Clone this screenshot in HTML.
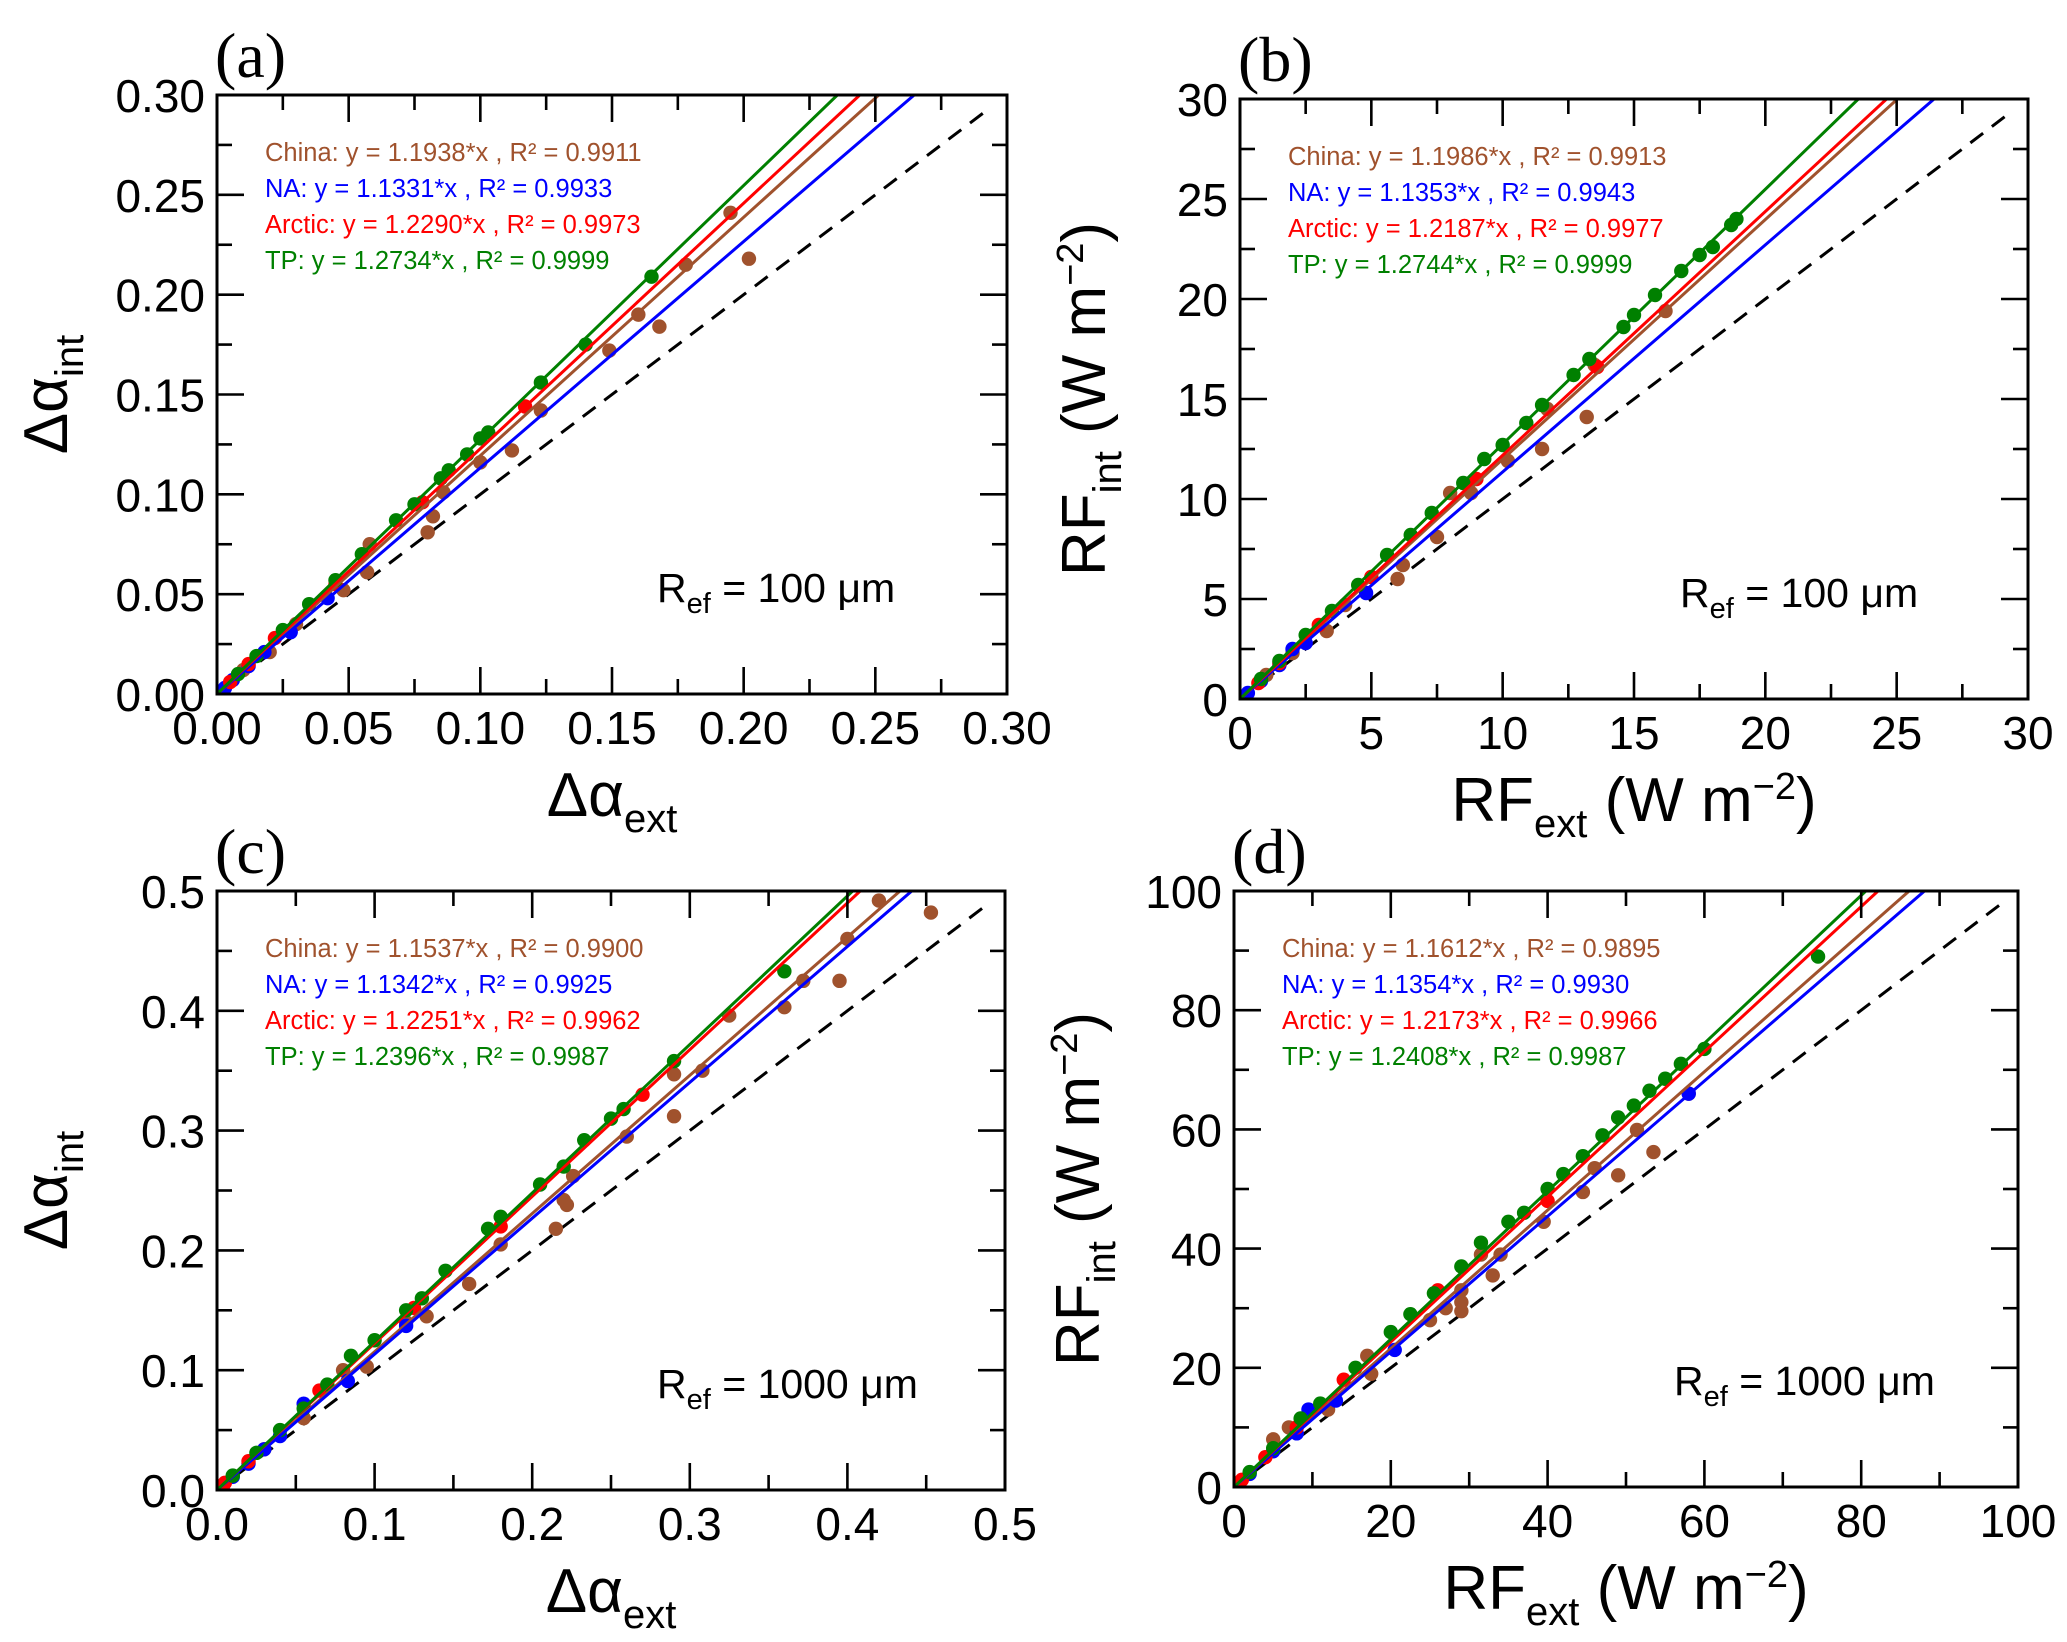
<!DOCTYPE html>
<html><head><meta charset="utf-8"><style>
html,body{margin:0;padding:0;background:#fff;}
svg{display:block;}
</style></head><body>
<svg id="fig" width="2067" height="1642" viewBox="0 0 2067 1642" xmlns="http://www.w3.org/2000/svg"></svg>
<script>
// ---------- data ----------
const slopesA = [1.1938, 1.1331, 1.2290, 1.2734];
const r2A = ["0.9911", "0.9933", "0.9973", "0.9999"];
const slopesB = [1.1986, 1.1353, 1.2187, 1.2744];
const r2B = ["0.9913", "0.9943", "0.9977", "0.9999"];
const slopesC = [1.1537, 1.1342, 1.2251, 1.2396];
const r2C = ["0.9900", "0.9925", "0.9962", "0.9987"];
const slopesD = [1.1612, 1.1354, 1.2173, 1.2408];
const r2D = ["0.9895", "0.9930", "0.9966", "0.9987"];
const regions = ["China", "NA", "Arctic", "TP"];

const chinaA = [[0.195,0.241],[0.202,0.218],[0.178,0.215],[0.160,0.190],[0.168,0.184],[0.149,0.172],[0.123,0.142],[0.112,0.122],[0.100,0.116],[0.082,0.089],[0.080,0.081],[0.086,0.101],[0.057,0.061],[0.058,0.075],[0.048,0.052],[0.030,0.035],[0.020,0.021],[0.010,0.012]];
const naA = [[0.042,0.048],[0.028,0.031],[0.018,0.021],[0.012,0.014],[0.006,0.007],[0.003,0.003]];
const arcticA = [[0.117,0.144],[0.078,0.096],[0.045,0.055],[0.022,0.028],[0.012,0.015],[0.005,0.006]];
const tpA = [[0.165,0.209],[0.123,0.156],[0.140,0.175],[0.103,0.131],[0.100,0.128],[0.095,0.120],[0.088,0.112],[0.085,0.108],[0.075,0.095],[0.068,0.087],[0.055,0.070],[0.045,0.057],[0.035,0.045],[0.025,0.032],[0.015,0.019],[0.008,0.010]];

const chinaB = [[16.2,19.4],[13.2,14.1],[11.5,12.5],[10.2,11.9],[8.8,10.3],[7.5,8.1],[8.0,10.3],[6.2,6.7],[6.0,6.0],[4.0,4.7],[3.3,3.4],[2.0,2.3],[1.0,1.2],[13.5,16.7],[11.7,14.5]];
const naB = [[4.8,5.3],[2.5,2.8],[2.0,2.5],[1.5,1.7],[0.8,0.9],[0.3,0.3]];
const arcticB = [[13.6,16.6],[9.0,11.0],[5.0,6.1],[3.0,3.7],[1.5,1.8],[0.7,0.8]];
const tpB = [[18.9,24.0],[18.7,23.7],[18.0,22.6],[17.5,22.2],[16.8,21.4],[15.8,20.2],[15.0,19.2],[14.6,18.6],[13.3,17.0],[12.7,16.2],[11.5,14.7],[10.9,13.8],[10.0,12.7],[9.3,12.0],[8.5,10.8],[7.3,9.3],[6.5,8.2],[5.6,7.2],[4.5,5.7],[3.5,4.4],[2.5,3.2],[1.5,1.9],[0.8,1.0]];

const chinaC = [[0.453,0.482],[0.420,0.492],[0.400,0.460],[0.395,0.425],[0.372,0.425],[0.360,0.403],[0.325,0.396],[0.308,0.350],[0.290,0.312],[0.290,0.347],[0.260,0.295],[0.226,0.262],[0.222,0.238],[0.215,0.218],[0.220,0.242],[0.180,0.205],[0.160,0.172],[0.133,0.145],[0.120,0.140],[0.095,0.103],[0.080,0.100],[0.055,0.060],[0.030,0.034]];
const naC = [[0.120,0.137],[0.083,0.091],[0.055,0.072],[0.040,0.045],[0.030,0.034],[0.020,0.022],[0.010,0.011],[0.004,0.004]];
const arcticC = [[0.270,0.330],[0.180,0.220],[0.125,0.152],[0.065,0.083],[0.020,0.024],[0.005,0.006]];
const tpC = [[0.360,0.433],[0.290,0.358],[0.258,0.318],[0.250,0.310],[0.233,0.292],[0.220,0.270],[0.205,0.255],[0.180,0.228],[0.172,0.218],[0.145,0.183],[0.130,0.160],[0.120,0.150],[0.100,0.125],[0.085,0.112],[0.070,0.088],[0.055,0.068],[0.040,0.050],[0.025,0.031],[0.010,0.012]];

const chinaD = [[53.5,56.2],[49,52.3],[51.4,59.9],[58,66],[46,53.5],[44.5,49.5],[39.5,44.5],[33,35.5],[34,39],[29,29.5],[29,31],[27,30],[29,33],[31.5,39],[25,28],[17.5,19],[17,22],[12,13],[7,10],[5,8]];
const naD = [[58,66],[20.5,23],[13,14.5],[9.5,13],[8,9],[5,6],[2,2.2]];
const arcticD = [[40,48],[26,33],[14,18],[8,10],[4,5],[1,1.2]];
const tpD = [[74.5,89],[60,73.5],[57,71],[55,68.5],[53,66.5],[51,64],[49,62],[47,59],[44.5,55.5],[42,52.5],[40,50],[37,46],[35,44.5],[31.5,41],[29,37],[25.5,32.5],[22.5,29],[20,26],[15.5,20],[11,14],[8.5,11.5],[5,6.5],[2,2.5]];

const ticksA = ["0.00","0.05","0.10","0.15","0.20","0.25","0.30"];
const ticksB = ["0","5","10","15","20","25","30"];
const ticksC = ["0.0","0.1","0.2","0.3","0.4","0.5"];
const ticksD = ["0","20","40","60","80","100"];

// ---------- drawing ----------
const NS = "http://www.w3.org/2000/svg";
const svg = document.getElementById("fig");
const colors = ["#a0522d", "#0000ff", "#ff0000", "#008000"];
const F = '"Liberation Sans", Arial, sans-serif';

function mk(tag, attrs, parent) {
  const e = document.createElementNS(NS, tag);
  for (const k in attrs) e.setAttribute(k, attrs[k]);
  (parent || svg).appendChild(e);
  return e;
}

function panel(cfg) {
  const {L, R, T, B, max, ticks, slopes, r2, series, label, kind, refText, name} = cfg;
  const g = mk("g", {});
  
  
  const sx = v => L + (v / max) * (R - L);
  const sy = v => B - (v / max) * (B - T);

  const cid = "clip-" + name;
  const cp = mk("clipPath", {id: cid}, g);
  mk("rect", {x: L, y: T, width: R - L, height: B - T}, cp);
  const plot = mk("g", {"clip-path": "url(#" + cid + ")"}, g);

  const ref = mk("line", {x1: sx(0), y1: sy(0), x2: sx(max * 0.98), y2: sy(max * 0.98), stroke: "#000", "stroke-width": 3, "stroke-dasharray": "16,11"}, plot);
  
  

  series.forEach((pts, i) => {
    pts.forEach(p => {
      const c = mk("circle", {cx: sx(p[0]), cy: sy(p[1]), r: 7.2, fill: colors[i]}, plot);
      
      
    });
  });
  slopes.forEach((s, i) => {
    const xe = max / s;
    const ln = mk("line", {x1: sx(0), y1: sy(0), x2: sx(xe), y2: sy(max), stroke: colors[i], "stroke-width": 3}, plot);
    
    
  });

  const n = ticks.length - 1;
  const step = max / n;
  for (let k = 0; k <= 2 * n; k++) {
    const v = k * step / 2;
    const len = (k % 2 === 0) ? 27 : 15;
    const X = sx(v), Y = sy(v);
    mk("line", {x1: X, y1: B, x2: X, y2: B - len, stroke: "#000", "stroke-width": 2.6}, g);
    mk("line", {x1: X, y1: T, x2: X, y2: T + len, stroke: "#000", "stroke-width": 2.6}, g);
    mk("line", {x1: L, y1: Y, x2: L + len, y2: Y, stroke: "#000", "stroke-width": 2.6}, g);
    mk("line", {x1: R, y1: Y, x2: R - len, y2: Y, stroke: "#000", "stroke-width": 2.6}, g);
  }
  ticks.forEach((t, k) => {
    const v = k * step;
    const tx = mk("text", {x: sx(v), y: B + 50, "text-anchor": "middle", "font-family": F, "font-size": 46, fill: "#000"}, g);
    tx.textContent = t;
    
    
    const ty = mk("text", {x: L - 12, y: sy(v) + 17, "text-anchor": "end", "font-family": F, "font-size": 46, fill: "#000"}, g);
    ty.textContent = t;
    
    
  });

  const fr = mk("rect", {x: L, y: T, width: R - L, height: B - T, fill: "none", stroke: "#000", "stroke-width": 3}, g);
  
  

  slopes.forEach((s, i) => {
    const t = mk("text", {x: L + 48, y: T + 66 + i * 36, "font-family": F, "font-size": 25.5, fill: colors[i]}, g);
    t.textContent = regions[i] + ": y = " + s.toFixed(4) + "*x , R\u00B2 = " + r2[i];
    
    
  });

  const rt = mk("text", {x: L + 440, y: B - 92, "font-family": F, "font-size": 41, fill: "#000"}, g);
  rt.innerHTML = 'R<tspan font-size="29" dy="11">ef</tspan><tspan dy="-11"> = ' + refText + '</tspan>';
  
  

  const pl = mk("text", {x: L - 2, y: T - 18, "font-family": '"Liberation Serif", "Times New Roman", serif', "font-size": 64, fill: "#000"}, g);
  pl.textContent = label;
  
  

  const cx = (L + R) / 2, cy = (T + B) / 2;
  const xt = mk("text", {x: cx, y: B + 122, "text-anchor": "middle", "font-family": F, "font-size": 62, fill: "#000"}, g);
  const yx = kind === "alpha" ? L - 150 : L - 135;
  const yt = mk("text", {x: 0, y: 0, "text-anchor": "middle", "font-family": F, "font-size": 62, fill: "#000", transform: "translate(" + yx + "," + cy + ") rotate(-90)"}, g);
  if (kind === "alpha") {
    xt.innerHTML = '\u0394\u03B1<tspan font-size="40" dy="16">ext</tspan>';
    yt.innerHTML = '\u0394\u03B1<tspan font-size="40" dy="16">int</tspan>';
  } else {
    xt.innerHTML = 'RF<tspan font-size="40" dy="16">ext</tspan><tspan dy="-16"> (W m</tspan><tspan font-size="38" dy="-22">\u22122</tspan><tspan dy="22">)</tspan>';
    yt.innerHTML = 'RF<tspan font-size="40" dy="16">int</tspan><tspan dy="-16"> (W m</tspan><tspan font-size="38" dy="-22">\u22122</tspan><tspan dy="22">)</tspan>';
  }
  
  
  
  
}

panel({name: "panel-a", L: 217, R: 1007, T: 95, B: 694, max: 0.30, ticks: ticksA, slopes: slopesA, r2: r2A, series: [chinaA, naA, arcticA, tpA], label: "(a)", kind: "alpha", refText: "100  \u03BCm"});
panel({name: "panel-b", L: 1240, R: 2028, T: 99, B: 699, max: 30, ticks: ticksB, slopes: slopesB, r2: r2B, series: [chinaB, naB, arcticB, tpB], label: "(b)", kind: "rf", refText: "100  \u03BCm"});
panel({name: "panel-c", L: 217, R: 1005, T: 891, B: 1490, max: 0.5, ticks: ticksC, slopes: slopesC, r2: r2C, series: [chinaC, naC, arcticC, tpC], label: "(c)", kind: "alpha", refText: "1000  \u03BCm"});
panel({name: "panel-d", L: 1234, R: 2018, T: 891, B: 1487, max: 100, ticks: ticksD, slopes: slopesD, r2: r2D, series: [chinaD, naD, arcticD, tpD], label: "(d)", kind: "rf", refText: "1000  \u03BCm"});
</script>
</body></html>
